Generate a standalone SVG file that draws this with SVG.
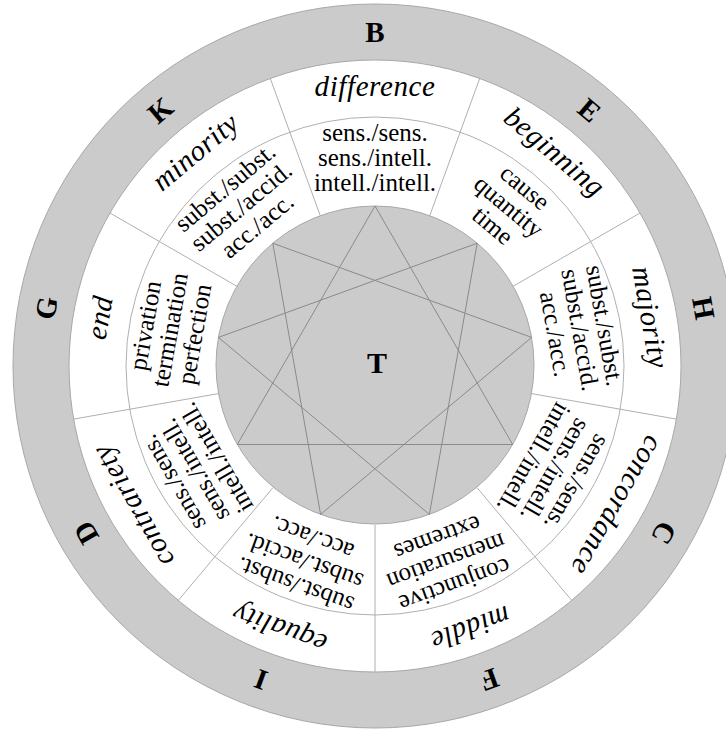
<svg xmlns="http://www.w3.org/2000/svg" width="726" height="731" viewBox="0 0 726 731">
<style>
.gray{fill:#cbcbcb;stroke:#a8a8a8;stroke-width:1}
.circ{fill:#fff;stroke:#a8a8a8;stroke-width:1}
.thin{fill:none;stroke:#b0b0b0;stroke-width:1}
.div{stroke:#b0b0b0;stroke-width:1}
.tri{fill:none;stroke:#8a8a8a;stroke-width:1}
text{font-family:"Liberation Serif","Times New Roman",serif;fill:#000;text-anchor:middle}
.let{font-size:29px;font-weight:bold}
.word{font-size:29px;font-style:italic;letter-spacing:0.6px}
.ln{font-size:25px}
.t{font-size:30px;font-weight:bold}
</style>
<g id="rings">
<circle class="gray" cx="375" cy="366" r="362"/>
<circle class="circ" cx="375" cy="366" r="306"/>
<circle class="thin" cx="375" cy="366" r="249"/>
</g>
<g id="dividers">
<line class="div" x1="320.6" y1="216.6" x2="270.3" y2="78.5"/>
<line class="div" x1="429.4" y1="216.6" x2="479.7" y2="78.5"/>
<line class="div" x1="512.7" y1="286.5" x2="640" y2="213"/>
<line class="div" x1="531.6" y1="393.6" x2="676.3" y2="419.1"/>
<line class="div" x1="477.2" y1="487.8" x2="571.7" y2="600.4"/>
<line class="div" x1="375" y1="525" x2="375" y2="672"/>
<line class="div" x1="272.8" y1="487.8" x2="178.3" y2="600.4"/>
<line class="div" x1="218.4" y1="393.6" x2="73.7" y2="419.1"/>
<line class="div" x1="237.3" y1="286.5" x2="110" y2="213"/>
</g>
<g id="center">
<circle class="gray" cx="375" cy="365" r="159"/>
<text class="t" x="377" y="373">T</text>
</g>
<g id="connectors">
<polygon class="tri" points="375,206 512.7,444.5 237.3,444.5"/>
<polygon class="tri" points="477.2,243.2 429.4,514.4 218.4,337.4"/>
<polygon class="tri" points="531.6,337.4 320.6,514.4 272.8,243.2"/>
</g>
<g id="sector-B" transform="rotate(0 375 366)">
<text class="let" x="375" y="42">B</text>
<text class="word" x="375" y="96">difference</text>
<text class="ln" x="375" y="141">sens./sens.</text>
<text class="ln" x="375" y="166">sens./intell.</text>
<text class="ln" x="375" y="191">intell./intell.</text>
</g>
<g id="sector-E" transform="rotate(40 375 366)">
<text class="let" x="375" y="42">E</text>
<text class="word" x="375" y="96">beginning</text>
<text class="ln" x="375" y="141">cause</text>
<text class="ln" x="375" y="166">quantity</text>
<text class="ln" x="375" y="191">time</text>
</g>
<g id="sector-H" transform="rotate(80 375 366)">
<text class="let" x="375" y="42">H</text>
<text class="word" x="375" y="96">majority</text>
<text class="ln" x="375" y="141">subst./subst.</text>
<text class="ln" x="375" y="166">subst./accid.</text>
<text class="ln" x="375" y="191">acc./acc.</text>
</g>
<g id="sector-C" transform="rotate(120 375 366)">
<text class="let" x="375" y="42">C</text>
<text class="word" x="375" y="96">concordance</text>
<text class="ln" x="375" y="141">sens./sens.</text>
<text class="ln" x="375" y="166">sens./intell.</text>
<text class="ln" x="375" y="191">intell./intell.</text>
</g>
<g id="sector-F" transform="rotate(160 375 366)">
<text class="let" x="375" y="42">F</text>
<text class="word" x="375" y="96">middle</text>
<text class="ln" x="375" y="141">conjunctive</text>
<text class="ln" x="375" y="166">mensuration</text>
<text class="ln" x="375" y="191">extremes</text>
</g>
<g id="sector-I" transform="rotate(200 375 366)">
<text class="let" x="375" y="42">I</text>
<text class="word" x="375" y="96">equality</text>
<text class="ln" x="375" y="141">subst./subst.</text>
<text class="ln" x="375" y="166">subst./accid.</text>
<text class="ln" x="375" y="191">acc./acc.</text>
</g>
<g id="sector-D" transform="rotate(240 375 366)">
<text class="let" x="375" y="42">D</text>
<text class="word" x="375" y="96">contrariety</text>
<text class="ln" x="375" y="141">sens./sens.</text>
<text class="ln" x="375" y="166">sens./intell.</text>
<text class="ln" x="375" y="191">intell./intell.</text>
</g>
<g id="sector-G" transform="rotate(280 375 366)">
<text class="let" x="375" y="42">G</text>
<text class="word" x="375" y="96">end</text>
<text class="ln" x="375" y="141">privation</text>
<text class="ln" x="375" y="166">termination</text>
<text class="ln" x="375" y="191">perfection</text>
</g>
<g id="sector-K" transform="rotate(320 375 366)">
<text class="let" x="375" y="42">K</text>
<text class="word" x="375" y="96">minority</text>
<text class="ln" x="375" y="141">subst./subst.</text>
<text class="ln" x="375" y="166">subst./accid.</text>
<text class="ln" x="375" y="191">acc./acc.</text>
</g>
</svg>
